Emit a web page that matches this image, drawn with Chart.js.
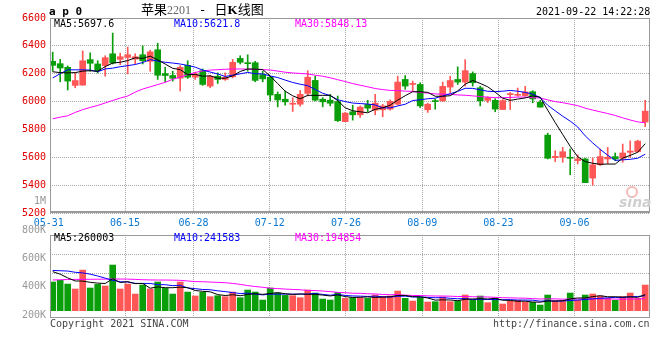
<!DOCTYPE html>
<html>
<head>
<meta charset="utf-8">
<script src="https://cdn.jsdelivr.net/npm/chart.js@4.4.0/dist/chart.umd.min.js"></script>
<style>
  body { margin: 0; background: #fff; }
  #wrap { position: relative; width: 660px; height: 360px; overflow: hidden; font-family: "DejaVu Sans Mono", monospace; font-size: 10px; }
  canvas { position: absolute; left: 0; }
  .t { position: absolute; white-space: pre; line-height: 1; }
</style>
</head>
<body>
<div id="wrap">
  <canvas id="kline" width="660" height="230" style="top:0"></canvas>
  <canvas id="vol" width="660" height="150" style="top:190px"></canvas>

  <div class="t" style="left:49px;top:6px;font-size:11px;font-weight:bold">a p 0</div>
  <div class="t" style="left:141px;top:2px;font-size:13px;line-height:13px;font-family:'Noto Sans CJK SC'">苹果<span style="font-family:'Liberation Serif';font-size:12px;color:#666">2201</span><span style="font-family:'DejaVu Sans Mono'"> - </span>日<b style="font-family:'Liberation Serif'">K</b>线图</div>
  <div class="t" style="left:536px;top:7px">2021-09-22 14:22:28</div>

  <div class="t" style="left:54px;top:19px;color:#000">MA5:5697.6</div>
  <div class="t" style="left:174px;top:19px;color:#0000ff">MA10:5621.8</div>
  <div class="t" style="left:295px;top:19px;color:#ff00ff">MA30:5848.13</div>

  <!-- the volume axis' top label sits above its own panel -->
  <div class="t" style="left:0;width:46px;text-align:right;top:196px;color:#999">1M</div>

  <div class="t" style="left:54px;top:233px;color:#000">MA5:260003</div>
  <div class="t" style="left:174px;top:233px;color:#0000ff">MA10:241583</div>
  <div class="t" style="left:295px;top:233px;color:#ff00ff">MA30:194854</div>

  <div style="position:absolute;left:626px;top:186px;width:8px;height:8px;border:2px solid #f6b9b9;border-radius:50%"></div>
  <div class="t" style="left:619px;top:195px;font-family:'DejaVu Sans';font-size:14px;font-weight:bold;font-style:italic;color:#cfcfcf">sina</div>

  <div class="t" style="left:50px;top:319px;color:#444">Copyright 2021 SINA.COM</div>
  <div class="t" style="left:493px;top:319px;color:#444">http://finance.sina.com.cn</div>
</div>

<script>
// date grid labels and the candle index they belong to
const dates = ['05-31', '06-15', '06-28', '07-12', '07-26', '08-09', '08-23', '09-06'];
const dateIdx = [0, 10, 19, 29, 39, 49, 59, 69];

// daily candles 2021-05-31 .. 2021-09-22
const open = [
  6289, 6272, 6246, 6116, 6118, 6301, 6270, 6258, 6343, 6303,
  6317, 6305, 6336, 6289, 6372, 6201, 6187, 6168, 6260, 6175,
  6222, 6111, 6182, 6159, 6178, 6310, 6277, 6279, 6194, 6175,
  6052, 6017, 5981, 5981, 6059, 6152, 6017, 6010, 6000, 5856,
  5927, 5905, 5979, 5938, 5941, 5946, 5981, 6159, 6123, 6123,
  5941, 6005, 6005, 6104, 6159, 6140, 6201, 6099, 6009, 6009,
  5943, 6050, 6045, 6043, 6071, 5995, 5759, 5598, 5600, 5600,
  5576, 5588, 5451, 5546, 5588, 5605, 5593, 5636, 5640, 5853
];
const high = [
  6355, 6303, 6256, 6206, 6364, 6350, 6293, 6329, 6492, 6348,
  6391, 6343, 6400, 6369, 6419, 6246, 6218, 6258, 6293, 6211,
  6234, 6189, 6206, 6206, 6303, 6329, 6336, 6289, 6218, 6182,
  6069, 6076, 6028, 6080, 6222, 6182, 6028, 6052, 6040, 5922,
  5974, 5969, 6009, 6052, 5981, 6012, 6182, 6187, 6147, 6135,
  5988, 6017, 6140, 6182, 6249, 6301, 6213, 6111, 6035, 6021,
  6014, 6066, 6097, 6109, 6078, 6009, 5773, 5647, 5671, 5659,
  5617, 5593, 5595, 5659, 5671, 5631, 5695, 5718, 5723, 6009
];
const low = [
  6218, 6142, 6083, 6099, 6118, 6218, 6206, 6182, 6270, 6265,
  6199, 6270, 6270, 6218, 6159, 6142, 6147, 6076, 6166, 6159,
  6116, 6099, 6130, 6152, 6170, 6270, 6218, 6142, 6142, 6005,
  5962, 5974, 5929, 5967, 6040, 6005, 5962, 5969, 5856, 5856,
  5867, 5886, 5927, 5905, 5891, 5938, 5976, 6088, 6076, 5957,
  5922, 5945, 6000, 6064, 6123, 6111, 6111, 5969, 5993, 5927,
  5943, 5943, 6038, 6038, 5991, 5960, 5588, 5569, 5564, 5475,
  5553, 5418, 5399, 5541, 5553, 5576, 5564, 5600, 5635, 5820
];
const close = [
  6260, 6241, 6147, 6151, 6293, 6275, 6222, 6315, 6277, 6322,
  6336, 6322, 6293, 6357, 6189, 6187, 6168, 6246, 6175, 6199,
  6123, 6182, 6159, 6175, 6282, 6282, 6272, 6152, 6163, 6047,
  6012, 5998, 5988, 6052, 6175, 6010, 5998, 5988, 5863, 5917,
  5905, 5960, 5953, 5988, 5969, 6002, 6140, 6111, 6130, 5969,
  5981, 6000, 6109, 6151, 6140, 6222, 6135, 6005, 6028, 5946,
  6007, 6057, 6052, 6069, 6019, 5960, 5593, 5607, 5640, 5593,
  5588, 5418, 5546, 5605, 5600, 5588, 5631, 5645, 5716, 5931
];

// price moving averages as plotted
const ma5 = [
  6214, 6208, 6206, 6208, 6218.4, 6221.4, 6217.6, 6251.2, 6276.4, 6282.2,
  6294.4, 6314.4, 6310, 6326, 6299.4, 6269.6, 6238.8, 6229.4, 6193, 6195,
  6182.2, 6185, 6167.6, 6167.6, 6184.2, 6216, 6234, 6232.6, 6230.2, 6183.2,
  6129.2, 6074.4, 6041.6, 6019.4, 6045, 6044.6, 6044.6, 6044.6, 6006.8, 5955.2,
  5934.2, 5926.6, 5919.6, 5944.6, 5955, 5974.4, 6010.4, 6042, 6070.4, 6070.4,
  6066.2, 6038.2, 6037.8, 6042, 6076.2, 6124.4, 6151.4, 6130.6, 6106, 6067.2,
  6024.2, 6008.6, 6018, 6026.2, 6040.8, 6031.4, 5938.6, 5849.6, 5763.8, 5678.6,
  5604.2, 5569.2, 5557, 5550, 5551.4, 5551.4, 5594, 5613.8, 5636, 5697.6
];
const ma10 = [
  6170, 6200, 6228, 6228, 6228, 6226, 6214, 6234, 6240, 6250.3,
  6257.9, 6266, 6280.6, 6301.2, 6290.8, 6282, 6276.6, 6269.7, 6259.5, 6247.2,
  6225.9, 6211.9, 6198.5, 6180.3, 6189.6, 6199.1, 6209.5, 6200.1, 6198.9, 6183.7,
  6172.6, 6154.2, 6137.1, 6124.8, 6114.1, 6086.9, 6059.5, 6043.1, 6013.1, 6000.1,
  5989.4, 5985.6, 5982.1, 5975.7, 5955.1, 5954.3, 5968.5, 5980.8, 6007.5, 6012.7,
  6020.3, 6024.3, 6039.9, 6056.2, 6073.3, 6095.3, 6094.8, 6084.2, 6074, 6071.7,
  6074.3, 6080, 6074.3, 6066.1, 6054, 6027.8, 5973.6, 5933.8, 5895, 5859.7,
  5817.8, 5753.9, 5703.3, 5656.9, 5615, 5577.8, 5581.6, 5585.4, 5593, 5621.8
];
const ma30 = [
  5876, 5888, 5898, 5922, 5942, 5958, 5972, 5990, 6008, 6025,
  6040, 6068, 6090, 6106, 6122, 6138, 6160, 6176, 6193, 6209,
  6220, 6226, 6229, 6232, 6234, 6234, 6233, 6231, 6229, 6227,
  6218.8, 6210.7, 6205.4, 6202.1, 6198.2, 6189.3, 6181.9, 6171, 6157.2, 6143.7,
  6129.3, 6117.2, 6105.9, 6093.6, 6086.3, 6080.1, 6079.2, 6074.7, 6073.2, 6065.5,
  6060.8, 6054.7, 6053, 6052.2, 6047.5, 6045.5, 6040.9, 6036, 6031.5, 6028.2,
  6028, 6030, 6032.1, 6032.7, 6027.5, 6025.8, 6012.3, 5999.6, 5992.2, 5981.4,
  5970.8, 5952.7, 5939.2, 5926.4, 5914.1, 5900.3, 5883.3, 5867.8, 5854, 5848.13
];

// volume and its moving averages
const volume = [
  463000, 490000, 430000, 350000, 656000, 366000, 425000, 398000, 737000, 350000,
  430000, 269000, 414000, 350000, 463000, 360000, 269000, 463000, 301000, 237000,
  296000, 226000, 242000, 226000, 301000, 210000, 334000, 301000, 172000, 366000,
  285000, 247000, 242000, 210000, 334000, 285000, 188000, 172000, 296000, 199000,
  210000, 210000, 199000, 253000, 226000, 237000, 317000, 199000, 156000, 215000,
  140000, 145000, 221000, 145000, 156000, 253000, 172000, 237000, 129000, 204000,
  108000, 151000, 167000, 140000, 134000, 91000, 253000, 161000, 161000, 285000,
  167000, 253000, 269000, 237000, 199000, 167000, 226000, 285000, 199000, 414000
];
const volMa5 = [
  630000, 590000, 530000, 480000, 478000, 458000, 445000, 439000, 516000, 455000,
  468000, 437000, 440000, 363000, 385000, 371000, 371000, 381000, 371000, 326000,
  313000, 305000, 260000, 245000, 258000, 241000, 263000, 274000, 264000, 277000,
  292000, 274000, 262000, 270000, 264000, 264000, 252000, 238000, 255000, 228000,
  213000, 217000, 223000, 214000, 220000, 225000, 246000, 246000, 227000, 225000,
  205000, 171000, 175000, 173000, 161000, 184000, 189000, 193000, 189000, 199000,
  170000, 166000, 152000, 154000, 140000, 137000, 157000, 156000, 160000, 190000,
  205000, 205000, 227000, 242000, 225000, 225000, 220000, 223000, 215000, 260003
];
const volMa10 = [
  650000, 645000, 640000, 620000, 610000, 590000, 560000, 525000, 490000, 467000,
  463000, 441000, 440000, 440000, 420000, 420000, 404000, 411000, 367000, 356000,
  342000, 338000, 321000, 308000, 292000, 277000, 284000, 267000, 255000, 267000,
  266000, 268000, 268000, 267000, 270000, 278000, 263000, 250000, 263000, 246000,
  238000, 235000, 230000, 235000, 224000, 219000, 232000, 235000, 221000, 222000,
  215000, 209000, 211000, 200000, 193000, 195000, 180000, 184000, 181000, 180000,
  177000, 178000, 172000, 172000, 170000, 153000, 161000, 154000, 157000, 165000,
  171000, 181000, 191000, 201000, 208000, 215000, 213000, 225000, 229000, 241583
];
const volMa30 = [
  495000, 500000, 503000, 505000, 506000, 507000, 508000, 510000, 511000, 511000,
  510000, 505000, 500000, 497000, 495000, 495000, 493000, 490000, 480000, 470000,
  468000, 462000, 457000, 452000, 440000, 425000, 405000, 390000, 378000, 363000,
  357000, 349000, 343000, 338000, 327000, 325000, 317000, 309000, 295000, 290000,
  282000, 280000, 273000, 270000, 262000, 258000, 260000, 251000, 246000, 245000,
  240000, 237000, 237000, 234000, 229000, 230000, 225000, 223000, 221000, 216000,
  210000, 207000, 204000, 202000, 195000, 189000, 191000, 191000, 186000, 189000,
  188000, 189000, 192000, 191000, 190000, 188000, 185000, 188000, 189000, 194854
];

// axis ticks
const priceTicks = [5200, 5400, 5600, 5800, 6000, 6200, 6400, 6600];
const volTickLabels = [200000, 400000, 600000, 800000];
const volGrid = [600000, 900000];

const RED = '#ff5656';
const GREEN = '#0b9e0b';
const GRID = '#a8a8a8';
const MONO = '"DejaVu Sans Mono", monospace';

const candleColors = close.map((c, i) => c >= open[i] ? RED : GREEN);
const pts = arr => arr.map((v, i) => ({ x: i, y: v }));

// border round the plot area
const framePlugin = {
  id: 'frame',
  afterDatasetsDraw(chart, args, opts) {
    const { ctx, chartArea: a } = chart;
    ctx.save();
    ctx.strokeStyle = '#999';
    ctx.lineWidth = 1;
    ctx.strokeRect(a.left + 0.5, a.top + 0.5, a.right - a.left - 1, a.bottom - a.top - 1);
    if (opts.thickBottom) {
      ctx.lineWidth = 2;
      ctx.beginPath();
      ctx.moveTo(a.left, a.bottom - 1);
      ctx.lineTo(a.right, a.bottom - 1);
      ctx.stroke();
    }
    ctx.restore();
  }
};

function xAxis(showLabels) {
  return {
    type: 'linear',
    offset: false,
    min: -0.36,
    max: 79.64,
    afterBuildTicks: scale => {
      // sina spaces the date grid a touch wider than the candles
      scale.ticks = dateIdx.map(i => ({ value: i * 1.016 - 0.52 }));
    },
    afterFit: scale => { scale.height = showLabels ? 17 : 0; },
    grid: { offset: false, color: c => c.index === 0 ? 'rgba(0,0,0,0)' : GRID, drawTicks: false },
    border: { display: false, dash: [1, 1] },
    ticks: {
      display: showLabels,
      autoSkip: false,
      maxRotation: 0,
      padding: 4,
      color: '#0b78d1',
      font: { family: MONO, size: 10 },
      callback: (v, i) => dates[i]
    }
  };
}

function maLine(data, color) {
  return { type: 'line', data: pts(data), borderColor: color, borderWidth: 1, pointRadius: 0, tension: 0, order: 0 };
}

new Chart(document.getElementById('kline'), {
  type: 'bar',
  data: {
    datasets: [
      maLine(ma5, '#000000'),
      maLine(ma10, '#0000ff'),
      maLine(ma30, '#ff00ff'),
      {
        data: low.map((l, i) => ({ x: i, y: [l, high[i]] })),
        backgroundColor: candleColors,
        barThickness: 1,
        grouped: false,
        order: 2
      },
      {
        data: open.map((o, i) => ({ x: i, y: [o, close[i]] })),
        backgroundColor: candleColors,
        barThickness: 6,
        minBarLength: 1,
        grouped: false,
        order: 1
      }
    ]
  },
  options: {
    responsive: false,
    animation: false,
    layout: { padding: { left: 0, right: 10, top: 18, bottom: 0 } },
    plugins: { legend: { display: false }, tooltip: { enabled: false }, frame: { thickBottom: true } },
    scales: {
      x: xAxis(true),
      y: {
        min: 5200,
        max: 6600,
        afterBuildTicks: scale => { scale.ticks = priceTicks.map(v => ({ value: v })); },
        afterFit: scale => { scale.width = 50; },
        grid: { color: GRID, drawTicks: false },
        border: { display: false, dash: [1, 1] },
        ticks: { autoSkip: false, padding: 4, color: '#e00000', font: { family: MONO, size: 10 }, callback: v => String(v) }
      }
    }
  },
  plugins: [framePlugin]
});

new Chart(document.getElementById('vol'), {
  type: 'bar',
  data: {
    datasets: [
      maLine(volMa5, '#000000'),
      maLine(volMa10, '#0000ff'),
      maLine(volMa30, '#ff00ff'),
      {
        data: pts(volume),
        backgroundColor: candleColors,
        barThickness: 6,
        grouped: false,
        order: 1
      }
    ]
  },
  options: {
    responsive: false,
    animation: false,
    layout: { padding: { left: 0, right: 10, top: 45, bottom: 22 } },
    plugins: { legend: { display: false }, tooltip: { enabled: false }, frame: {} },
    scales: {
      x: xAxis(false),
      y: {
        min: -118000,
        max: 1222000,
        afterBuildTicks: scale => { scale.ticks = volGrid.map(v => ({ value: v })); },
        afterFit: scale => { scale.width = 0; },
        grid: { color: GRID, drawTicks: false },
        border: { display: false, dash: [1, 1] },
        ticks: { display: false }
      },
      yl: {
        type: 'linear',
        position: 'left',
        min: 178700,
        max: 769400,
        afterBuildTicks: scale => { scale.ticks = volTickLabels.map(v => ({ value: v })); },
        afterFit: scale => { scale.width = 50; },
        grid: { display: false, drawTicks: false },
        border: { display: false },
        ticks: {
          autoSkip: false,
          padding: 4,
          color: '#999',
          font: { family: MONO, size: 10 },
          callback: v => (v / 1000) + 'K'
        }
      }
    }
  },
  plugins: [framePlugin]
});
</script>
</body>
</html>
